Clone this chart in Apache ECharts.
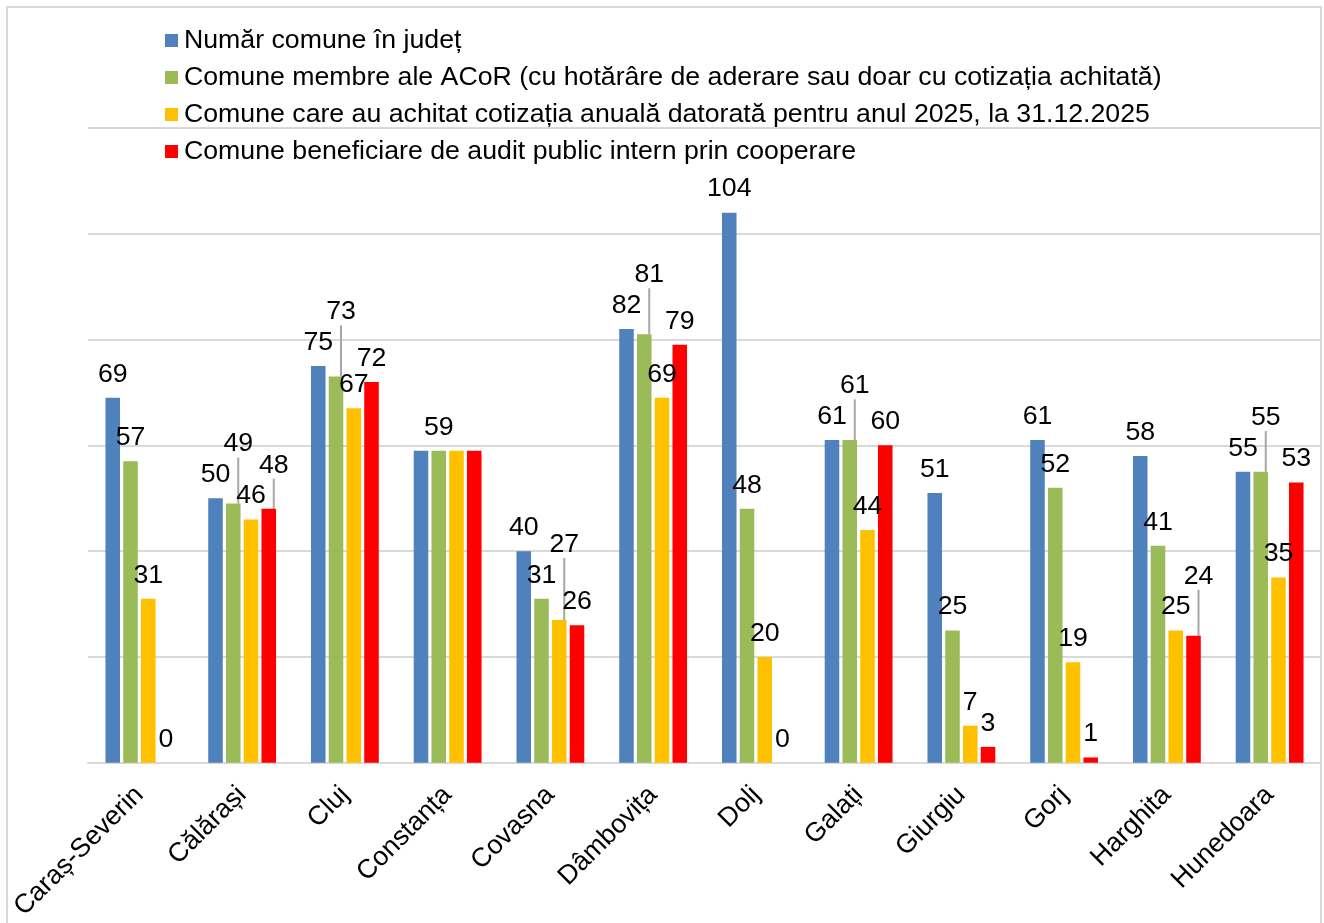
<!DOCTYPE html>
<html>
<head>
<meta charset="utf-8">
<script src="https://cdn.jsdelivr.net/npm/echarts@6/dist/echarts.min.js"></script>
<style>
  html, body { margin: 0; padding: 0; background: #fff; }
  #chart { width: 1324px; height: 923px; }
</style>
</head>
<body>
<div id="chart"></div>
<script>
// judete
var categories = ['Caraș-Severin', 'Călărași', 'Cluj', 'Constanța', 'Covasna', 'Dâmbovița',
  'Dolj', 'Galați', 'Giurgiu', 'Gorj', 'Harghita', 'Hunedoara'];

var seriesNames = [
  'Număr comune în județ',
  'Comune membre ale ACoR (cu hotărâre de aderare sau doar cu cotizația achitată)',
  'Comune care au achitat cotizația anuală datorată pentru anul 2025, la 31.12.2025',
  'Comune beneficiare de audit public intern prin cooperare'
];

var totalComune = [69, 50, 75, 59, 40, 82, 104, 61, 51, 61, 58, 55];
var membreAcor = [57, 49, 73, 59, 31, 81, 48, 61, 25, 52, 41, 55];
var cotizatie2025 = [31, 46, 67, 59, 27, 69, 20, 44, 7, 19, 25, 35];
var auditIntern = [0, 48, 72, 59, 26, 79, 0, 60, 3, 1, 24, 53];

// etichete sterse in original (Constanta are o singura eticheta) : [categorie, serie]
var hiddenLabels = [[3, 0], [3, 2], [3, 3]];

var colors = ['#4F81BD', '#9BBB59', '#FFC000', '#FF0000'];
var values = [totalComune, membreAcor, cotizatie2025, auditIntern];
var FONT = 'Liberation Sans, Arial, sans-serif';
var FONT_SIZE = 26.7;
var LABEL_DIST = 10;

var chart = echarts.init(document.getElementById('chart'));

function isHidden(c, s) {
  return hiddenLabels.some(function (h) { return h[0] === c && h[1] === s; });
}

// offset-uri calculate dupa prima randare (null = pozitie implicita)
var offsets = values.map(function () { return []; });

function buildSeries() {
  return values.map(function (v, s) {
    return {
      name: seriesNames[s],
      type: 'bar',
      data: v.map(function (val, c) {
        var off = offsets[s][c];
        return {
          value: val,
          label: { show: !isHidden(c, s), offset: off || [0, 0] },
          labelLine: { show: !!off }
        };
      }),
      barGap: '22%',
      barCategoryGap: '34%',
      itemStyle: { color: colors[s] },
      label: {
        show: true,
        position: 'top',
        distance: LABEL_DIST,
        color: '#000',
        fontFamily: FONT,
        fontSize: FONT_SIZE
      },
      labelLine: { lineStyle: { color: '#A6A6A6', width: 2 } }
    };
  });
}

var option = {
  animation: false,
  color: colors,
  graphic: [{
    type: 'rect',
    shape: { x: 7, y: 7, width: 1314, height: 930 },
    style: { fill: 'none', stroke: '#D9D9D9', lineWidth: 2 },
    silent: true
  }],
  legend: {
    orient: 'vertical',
    left: 160,
    top: 22,
    itemWidth: 13,
    itemHeight: 13,
    itemGap: 10,
    icon: 'rect',
    textStyle: {
      fontFamily: FONT,
      fontSize: FONT_SIZE,
      color: '#000',
      padding: [0, 0, 0, 1]
    }
  },
  grid: { left: 88, right: 3, top: 128, bottom: 160, containLabel: false },
  xAxis: {
    type: 'category',
    data: categories,
    axisTick: { show: false },
    axisLine: { lineStyle: { color: '#D9D9D9', width: 2 } },
    axisLabel: {
      rotate: 45,
      interval: 0,
      margin: 28,
      color: '#000',
      fontFamily: FONT,
      fontSize: FONT_SIZE
    }
  },
  yAxis: {
    type: 'value',
    min: 0,
    max: 120,
    interval: 20,
    axisLabel: { show: false },
    axisLine: { show: false },
    axisTick: { show: false },
    splitLine: { lineStyle: { color: '#D9D9D9', width: 2 } }
  },
  series: buildSeries()
};

chart.setOption(option);

// a doua trecere: urca etichetele care se suprapun in aceeasi categorie
var ctx = document.createElement('canvas').getContext('2d');
ctx.font = FONT_SIZE + 'px ' + FONT;
var model = chart.getModel();
categories.forEach(function (cat, c) {
  var placed = [];
  values.forEach(function (v, s) {
    if (isHidden(c, s)) return;
    var lay = model.getSeriesByIndex(s).getData().getItemLayout(c);
    var top = Math.min(lay.y, lay.y + lay.height);
    var w = ctx.measureText(String(v[c])).width;
    var h = FONT_SIZE - 2;
    var r = { x: lay.x + lay.width / 2 - w / 2, y: top - LABEL_DIST - h, w: w, h: h };
    var y0 = r.y;
    var changed = true, guard = 0;
    while (changed && guard++ < 20) {
      changed = false;
      placed.forEach(function (p) {
        if (r.x < p.x + p.w && p.x < r.x + r.w && r.y < p.y + p.h && p.y < r.y + r.h) {
          r.y = p.y - r.h - 6;
          changed = true;
        }
      });
    }
    if (r.y !== y0) {
      r.x += 5;
      offsets[s][c] = [5, r.y - y0];
    }
    placed.push(r);
  });
});
option.series = buildSeries();
chart.setOption(option);
</script>
</body>
</html>
